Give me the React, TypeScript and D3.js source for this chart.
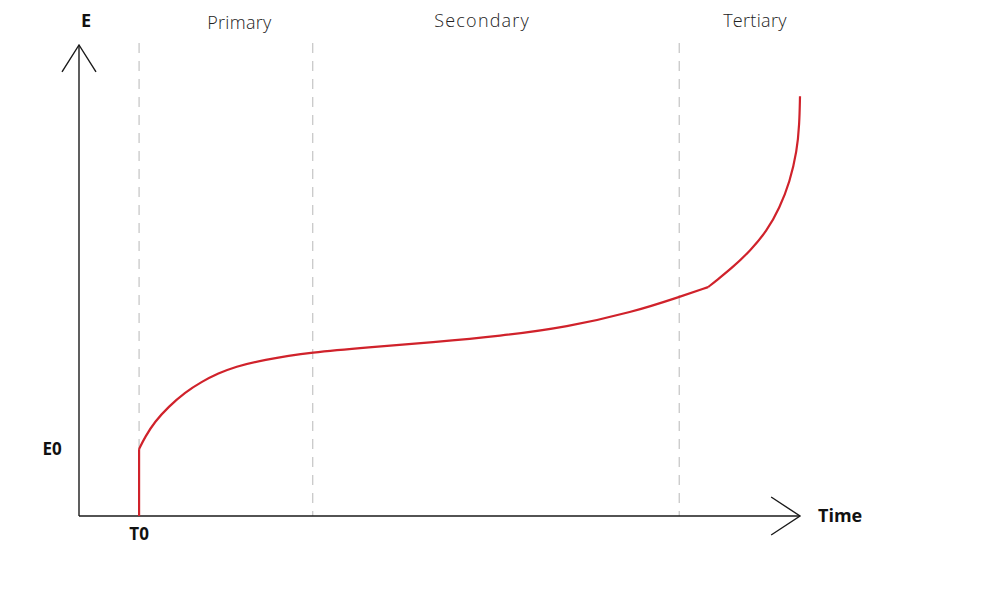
import React from "react";
import * as d3 from "d3";

// Creep curve: strain E against time, split into its three stages.
const stageNames: string[] = ["Primary", "Secondary", "Tertiary"];
const stageBoundaries: number[] = [1.0, 3.89, 9.99]; // time at the dashed dividers
const stageLabelTimes: number[] = [2.67, 6.71, 11.25];

const t0 = 1.0;
const e0 = 14.2;

// Instantaneous elastic strain at T0
const initialTime: number[] = [1.0, 1.0];
const initialStrain: number[] = [0, 14.2];

// Primary + secondary creep
const steadyTime: number[] = [1.0, 1.1, 1.26, 1.49, 1.76, 2.04, 2.32, 2.6, 3.04, 3.89, 4.79, 5.89, 7.01, 8.12, 9.22, 9.99, 10.47];
const steadyStrain: number[] = [14.2, 16.8, 20.0, 23.2, 26.2, 28.5, 30.3, 31.7, 33.1, 34.8, 35.8, 36.9, 38.2, 40.1, 43.3, 46.5, 48.6];

// Tertiary creep up to rupture
const tertiaryTime: number[] = [10.47, 10.61, 10.89, 11.17, 11.45, 11.66, 11.83, 11.95, 11.99, 12.0];
const tertiaryStrain: number[] = [48.6, 50.0, 52.9, 56.3, 60.5, 65.4, 70.9, 77.5, 83.2, 89.1];

const W = 1000;
const H = 600;

export default function App() {
  const x = d3.scaleLinear().domain([0, 12]).range([79, 800]);
  const y = d3.scaleLinear().domain([0, 100]).range([516, 45]);

  const zip = (ts: number[], es: number[]): [number, number][] => ts.map((t, i) => [t, es[i]]);

  const straight = d3
    .line<[number, number]>()
    .x((d) => x(d[0]))
    .y((d) => y(d[1]));
  const smooth = d3
    .line<[number, number]>()
    .x((d) => x(d[0]))
    .y((d) => y(d[1]))
    .curve(d3.curveBasis);

  const axisColor = "#1a1a1a";
  const red = "#d0222b";
  const font = "'Open Sans', 'DejaVu Sans', sans-serif";

  // Arrowheads in data units
  const yTip = 100;
  const yArm = 94.3;
  const xTip = 12;
  const xArm = 11.52;

  return (
    <svg
      width={W}
      height={H}
      viewBox={`0 0 ${W} ${H}`}
      style={{ position: "absolute", left: 0, top: 0, background: "#fff" }}
    >
      {/* stage dividers */}
      {stageBoundaries.map((t, i) => (
        <line
          key={"div" + i}
          x1={x(t)}
          x2={x(t)}
          y1={y(100) - 2}
          y2={y(0)}
          stroke="#c4c4c4"
          strokeWidth={1.2}
          strokeDasharray="10,8"
        />
      ))}

      {/* axes */}
      <line x1={x(0)} x2={x(0)} y1={y(0)} y2={y(yTip)} stroke={axisColor} strokeWidth={1.4} />
      <polyline
        points={`${x(0) - 17},${y(yArm)} ${x(0)},${y(yTip)} ${x(0) + 17},${y(yArm)}`}
        fill="none"
        stroke={axisColor}
        strokeWidth={1.4}
      />
      <line x1={x(0)} x2={x(xTip)} y1={y(0)} y2={y(0)} stroke={axisColor} strokeWidth={1.4} />
      <polyline
        points={`${x(xArm)},${y(0) - 19} ${x(xTip)},${y(0)} ${x(xArm)},${y(0) + 19}`}
        fill="none"
        stroke={axisColor}
        strokeWidth={1.4}
      />

      {/* creep curve */}
      <path d={straight(zip(initialTime, initialStrain)) || ""} fill="none" stroke={red} strokeWidth={2.2} />
      <path d={smooth(zip(steadyTime, steadyStrain)) || ""} fill="none" stroke={red} strokeWidth={2.2} />
      <path d={smooth(zip(tertiaryTime, tertiaryStrain)) || ""} fill="none" stroke={red} strokeWidth={2.2} />

      {/* stage names */}
      {stageNames.map((s, i) => (
        <text
          key={s}
          x={x(stageLabelTimes[i])}
          y={i === 0 ? 29 : 27}
          textAnchor="middle"
          fontFamily={font}
          fontWeight={300}
          fontSize={18}
          letterSpacing={i === 1 ? 1.2 : 0.3}
          fill="#222"
        >
          {s}
        </text>
      ))}

      {/* axis labels */}
      <text x={x(0) + 7} y={27} textAnchor="middle" fontFamily={font} fontWeight={700} fontSize={18} fill="#111">
        E
      </text>
      <text x={52} y={y(e0) + 6} textAnchor="middle" fontFamily={font} fontWeight={700} fontSize={17} fill="#111">
        E0
      </text>
      <text x={x(t0)} y={540} textAnchor="middle" fontFamily={font} fontWeight={700} fontSize={17} fill="#111">
        T0
      </text>
      <text x={818} y={522} textAnchor="start" fontFamily={font} fontWeight={700} fontSize={18} fill="#111">
        Time
      </text>
    </svg>
  );
}
